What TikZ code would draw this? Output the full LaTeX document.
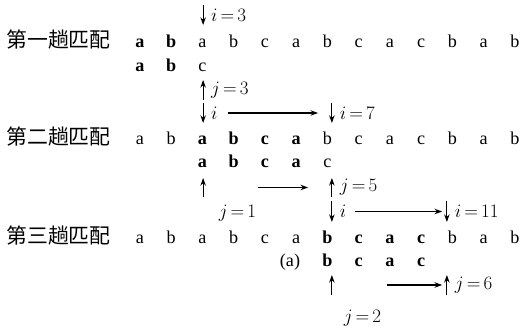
\documentclass[tikz,border=0pt]{standalone}
\usepackage{fontspec}
\setmainfont{Liberation Serif}
\newfontfamily\cjk{Noto Sans CJK SC}
\usetikzlibrary{arrows.meta}

\newcommand\rowfont{\fontsize{16.5}{19}\selectfont}

\tikzset{
  letter/.style={anchor=base, inner sep=0pt},
  plain/.style={font=\rowfont},
  matched/.style={font=\rowfont\bfseries},
  passname/.style={anchor=base, inner sep=0pt, font=\cjk\fontsize{19}{21}\selectfont},
  ptr/.style={anchor=west, inner sep=0pt, font=\rowfont},
  ptrarrow/.style={->, line width=1pt},
}

\begin{document}
\begin{tikzpicture}[>={Stealth[length=7pt,width=5pt]}]
    \useasboundingbox (0,0) rectangle (16.704,10.72);

    % pass labels
    \node[passname] (p1) at (1.87,9.184) {第一趟匹配};
    \node[passname] (p2) at (1.87,6.08) {第二趟匹配};
    \node[passname] (p3) at (1.87,2.912) {第三趟匹配};

    % main string, three times
    \foreach \w/\ch [count=\k] in {matched/a,matched/b,plain/a,plain/b,plain/c,plain/a,plain/b,plain/c,plain/a,plain/c,plain/b,plain/a,plain/b}
      \node[letter,\w] (sa\k) at (\k+3.48,9.184) {\ch};
    \foreach \w/\ch [count=\k] in {plain/a,plain/b,matched/a,matched/b,matched/c,matched/a,plain/b,plain/c,plain/a,plain/c,plain/b,plain/a,plain/b}
      \node[letter,\w] (sb\k) at (\k+3.48,6.08) {\ch};
    \foreach \w/\ch [count=\k] in {plain/a,plain/b,plain/a,plain/b,plain/c,plain/a,matched/b,matched/c,matched/a,matched/c,plain/b,plain/a,plain/b}
      \node[letter,\w] (sc\k) at (\k+3.48,2.912) {\ch};

    % pattern under the string
    \foreach \w/\ch [count=\k] in {matched/a,matched/b,plain/c}
      \node[letter,\w] (ta\k) at (\k+3.48,8.416) {\ch};
    \foreach \w/\ch [count=\k from 3] in {matched/a,matched/b,matched/c,matched/a,plain/c}
      \node[letter,\w] (tb\k) at (\k+3.48,5.344) {\ch};
    \foreach \w/\ch [count=\k from 7] in {matched/b,matched/c,matched/a,matched/c}
      \node[letter,\w] (tc\k) at (\k+3.48,2.176) {\ch};
    \node[letter,plain] (fig) at (9.28,2.176) {(a)};

    % pointers i and j
    \foreach \nm/\x/\ya/\yb in {iA/6.5/10.56/9.92, jA/6.5/7.52/8.16, iB/6.5/7.424/6.784,
        iC/10.62/7.424/6.784, jB/6.5/4.416/5.024, jC/10.62/4.416/5.024,
        iD/10.62/4.288/3.616, iE/14.3/4.288/3.616, jD/10.62/1.28/1.92, jE/14.3/1.28/1.92}
      \draw[ptrarrow] (\x,\ya) -- coordinate (\nm) (\x,\yb);

    \node[ptr] (liA) at ([xshift=0.25cm]iA) {$i\,{=}\,3$};
    \node[ptr] (ljA) at ([xshift=0.25cm]jA) {$j\,{=}\,3$};
    \node[ptr] (liB) at ([xshift=0.25cm]iB) {$i$};
    \node[ptr] (liC) at ([xshift=0.25cm]iC) {$i\,{=}\,7$};
    \node[ptr] (ljC) at ([xshift=0.25cm]jC) {$j\,{=}\,5$};
    \node[ptr] (liD) at ([xshift=0.25cm]iD) {$i$};
    \node[ptr] (liE) at ([xshift=0.25cm]iE) {$i\,{=}\,11$};
    \node[ptr] (ljE) at ([xshift=0.25cm]jE) {$j\,{=}\,6$};
    \node[font=\rowfont, inner sep=0pt] (ljB) at (7.6,3.9) {$j\,{=}\,1$};
    \node[font=\rowfont, inner sep=0pt] (ljD) at (11.6,0.544) {$j\,{=}\,2$};

    % moves
    \draw[ptrarrow, shorten <=0.32cm, shorten >=0.44cm] (liB.east) -- (iC);
    \draw[ptrarrow, shorten <=1.76cm, shorten >=0.76cm] (jB) -- (jC);
    \draw[ptrarrow, shorten <=0.28cm, shorten >=0.15cm] (liD.east) -- (iE);
    \draw[ptrarrow, shorten <=1.76cm, shorten >=0.15cm] (jD) -- (jE);
  \end{tikzpicture}
\end{document}
